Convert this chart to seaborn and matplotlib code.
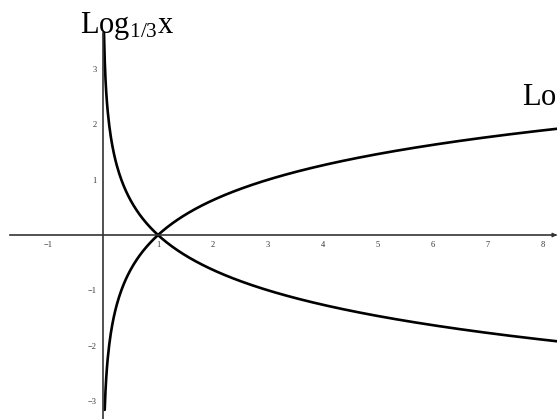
import numpy as np
import pandas as pd
import matplotlib
matplotlib.use("Agg")
import matplotlib.pyplot as plt
import seaborn as sns

# Domains over which each logarithm is sampled
x_inv = np.linspace(0.018, 8.3, 600)   # log base 1/3
x_pos = np.linspace(0.031, 8.3, 600)   # log base 3
base_inv = 1 / 3
base_pos = 3

x_ticks = [-1, 1, 2, 3, 4, 5, 6, 7, 8]
y_ticks = [-3, -2, -1, 1, 2, 3]
label_inv = r"Log$_{1/3}$x"
label_pos = r"Log$_{3}$x"

df = pd.concat([
    pd.DataFrame({"x": x_inv, "y": np.log(x_inv) / np.log(base_inv), "f": "inv"}),
    pd.DataFrame({"x": x_pos, "y": np.log(x_pos) / np.log(base_pos), "f": "pos"}),
])

sns.set_theme(style="white")
plt.rcParams["font.family"] = ["Liberation Serif", "DejaVu Serif"]
plt.rcParams["mathtext.fontset"] = "custom"
plt.rcParams["mathtext.rm"] = "Liberation Serif"
plt.rcParams["mathtext.it"] = "Liberation Serif"

fig = plt.figure(figsize=(5.57, 4.19), dpi=100)
ax = fig.add_axes([0, 0, 1, 1])

sns.lineplot(data=df, x="x", y="y", units="f", estimator=None,
             color="black", linewidth=1.9, ax=ax, legend=False, sort=False)

ax.set_xlim(-1.873, 8.255)
ax.set_ylim(-3.327, 4.25)

axis_col = "#333333"
for side in ["top", "right"]:
    ax.spines[side].set_visible(False)
ax.spines["left"].set_position(("data", 0))
ax.spines["bottom"].set_position(("data", 0))
ax.spines["left"].set_bounds(-3.33, 3.65)
ax.spines["bottom"].set_bounds(-1.69, 8.2)
for side in ["left", "bottom"]:
    ax.spines[side].set_color(axis_col)
    ax.spines[side].set_linewidth(1.2)

ax.set_xticks(x_ticks)
ax.set_yticks(y_ticks)
ax.set_xticklabels([str(t).replace("-", "\u2212") for t in x_ticks])
ax.set_yticklabels([str(t).replace("-", "\u2212") for t in y_ticks])
ax.tick_params(direction="inout", length=5.8, width=1.0, color=axis_col,
               labelsize=6, labelcolor="#333333", pad=1.5)
ax.set_xlabel("")
ax.set_ylabel("")

# Arrowhead at the right end of the x axis
ax.annotate("", xy=(8.255, 0), xytext=(8.18, 0),
            arrowprops=dict(arrowstyle="-|>", color=axis_col, lw=1.0,
                            mutation_scale=6), annotation_clip=False)

ax.text(-0.418, 3.653, label_inv, fontsize=22, ha="left", va="baseline",
        color="black")
ax.text(7.62, 2.35, label_pos, fontsize=22, ha="left", va="baseline",
        color="black")

fig.savefig("out.png", dpi=100)
